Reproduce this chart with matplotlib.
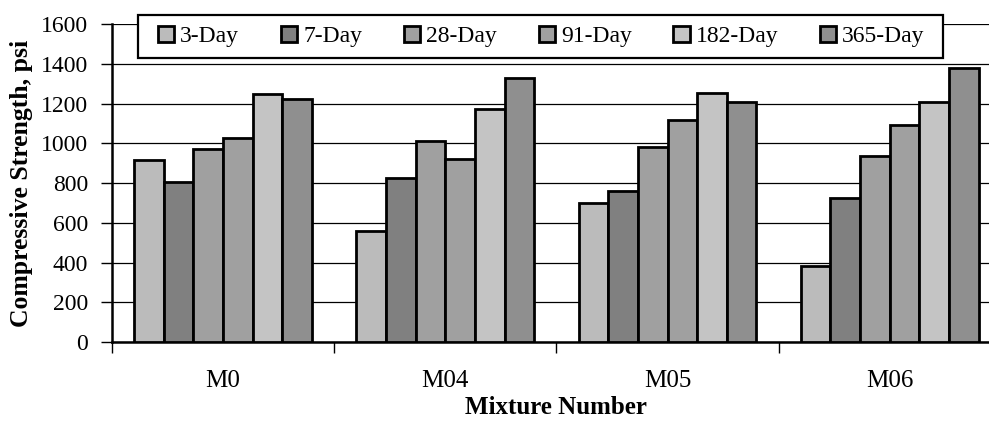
import matplotlib.pyplot as plt
from matplotlib.patches import Rectangle
import numpy as np

mixtures = ["M0", "M04", "M05", "M06"]
ages = ["3-Day", "7-Day", "28-Day", "91-Day", "182-Day", "365-Day"]
day3 = [915, 560, 700, 385]
day7 = [805, 825, 760, 725]
day28 = [970, 1010, 980, 935]
day91 = [1025, 920, 1120, 1090]
day182 = [1250, 1175, 1255, 1210]
day365 = [1225, 1330, 1210, 1380]
colors = ["#bbbbbb", "#808080", "#a0a0a0", "#a0a0a0", "#c4c4c4", "#8f8f8f"]

plt.rcParams['font.family'] = ['Liberation Serif', 'DejaVu Serif']

fig = plt.figure(figsize=(9.89, 4.24), dpi=100)
ax = fig.add_axes([0.1132, 0.1934, 0.8988, 0.7496])

series = [day3, day7, day28, day91, day182, day365]
x = np.arange(len(mixtures))
w = 1 / 7.5
for i, vals in enumerate(series):
    ax.bar(x - 2.5 * w + i * w, vals, width=w, color=colors[i], edgecolor='black',
           linewidth=2, label=ages[i], zorder=3)

ax.set_xlim(-0.5, 3.5)
ax.set_ylim(0, 1600)
ax.set_yticks(np.arange(0, 1601, 200))
ax.yaxis.grid(True, color='black', linewidth=0.9, zorder=0)
ax.set_xticks(x)
ax.set_xticklabels(mixtures)
ax.set_xticks(np.arange(-0.5, 3.5, 1), minor=True)
ax.tick_params(axis='x', which='major', length=0, pad=20, labelsize=18)
ax.tick_params(axis='x', which='minor', length=8, width=1, direction='out')
ax.tick_params(axis='y', length=8, width=1, direction='out', labelsize=17, pad=9)
for s in ['top', 'right']:
    ax.spines[s].set_visible(False)
ax.spines['left'].set_linewidth(1.8)
ax.spines['bottom'].set_linewidth(1.8)

ax.set_ylabel("Compressive Strength, psi", fontsize=18.5, fontweight='bold', labelpad=6)
ax.set_xlabel("Mixture Number", fontsize=18, fontweight='bold', labelpad=3)

# legend frame drawn separately so the padding can differ horizontally/vertically
frame = Rectangle((0.0292, 0.8931), 0.9055, 0.1352, transform=ax.transAxes,
                  facecolor='white', edgecolor='black', linewidth=1.6,
                  clip_on=False, zorder=4)
ax.add_patch(frame)
leg = ax.legend(ncol=6, loc='center', mode='expand',
                bbox_to_anchor=(0.0517, 0.8931, 0.8628, 0.1352), fontsize=17,
                frameon=False, handlelength=0.7, handleheight=0.7,
                handletextpad=0.25, borderpad=0, borderaxespad=0)
leg.set_zorder(5)

fig.savefig("out.png", dpi=100)
